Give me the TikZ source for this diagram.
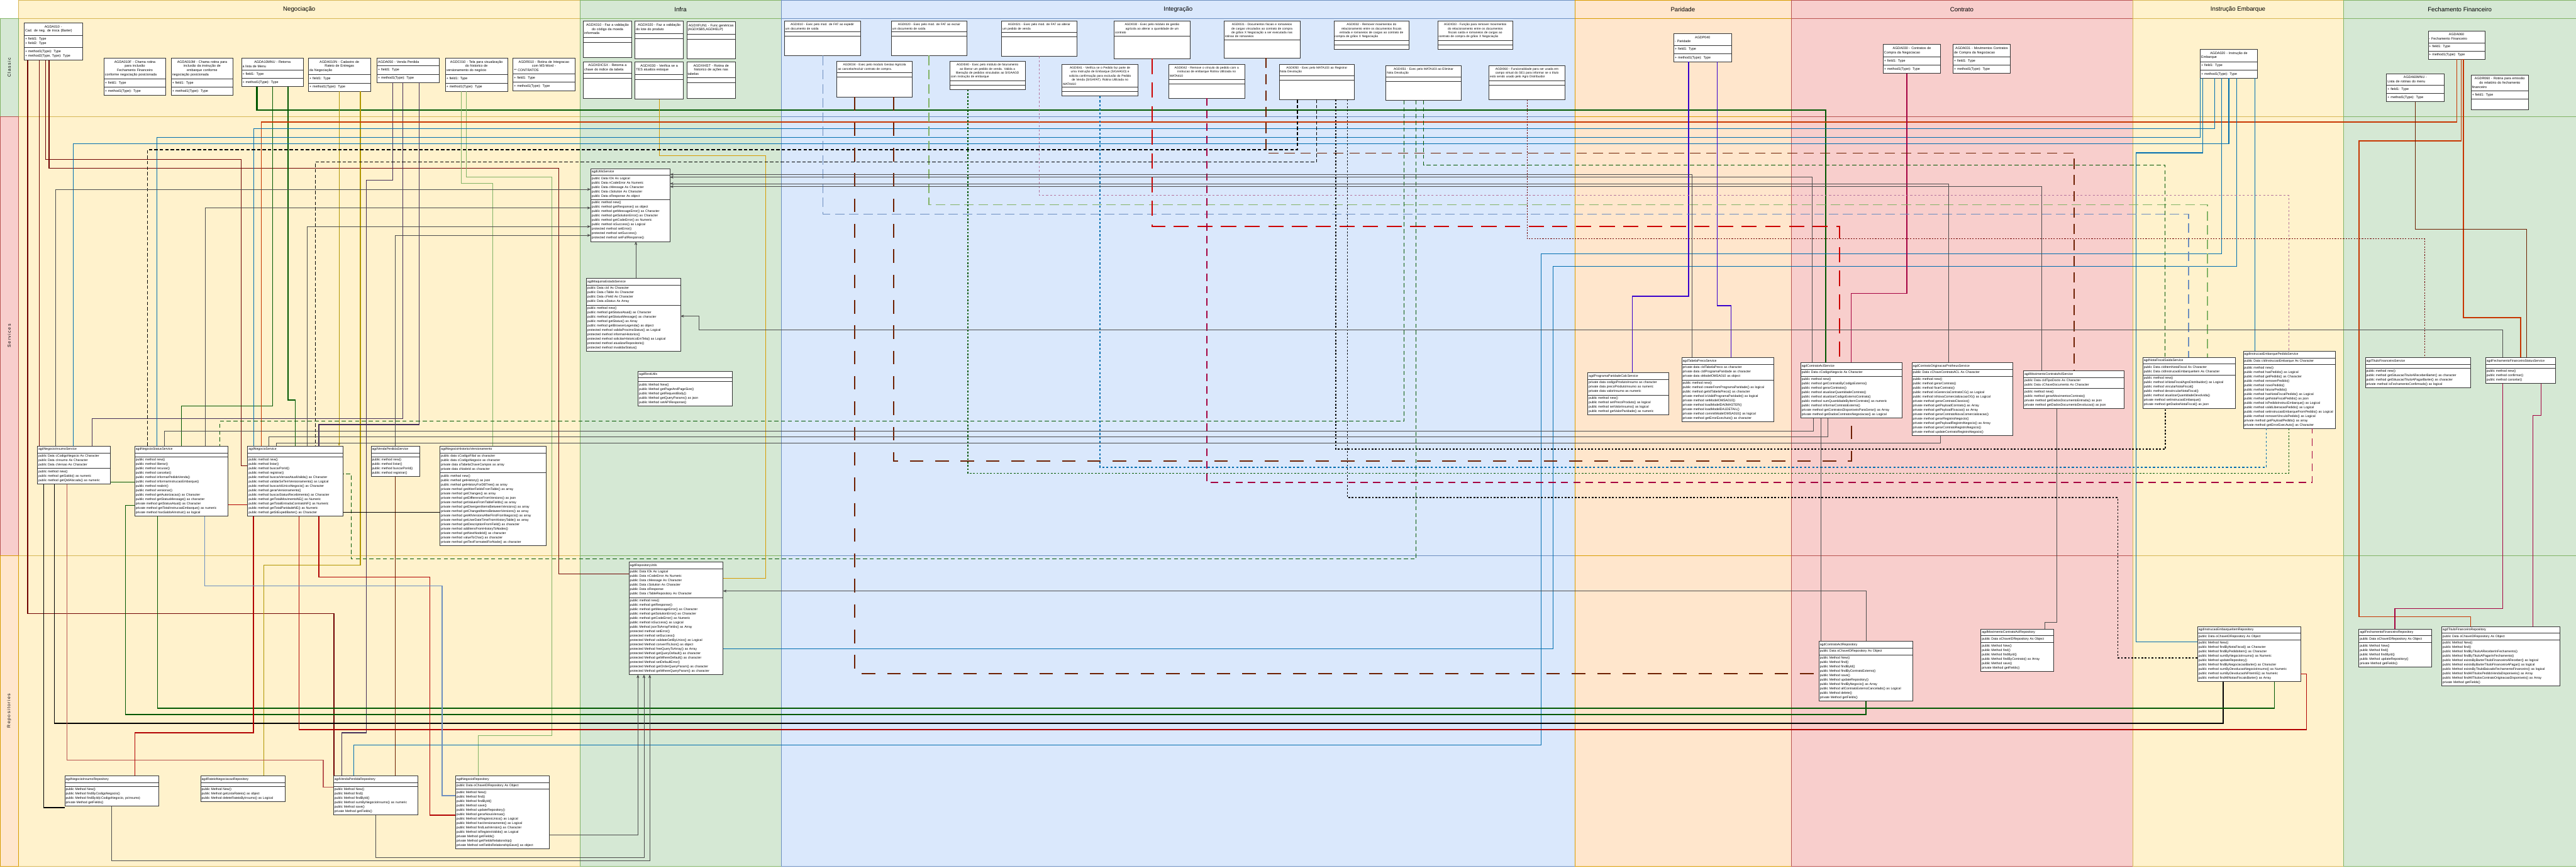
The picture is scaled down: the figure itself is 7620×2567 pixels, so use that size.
\documentclass[tikz,border=0pt]{standalone}
\usepackage{fontspec}
\setmainfont{Liberation Sans}
\usetikzlibrary{positioning,shapes.multipart,arrows.meta}
\definecolor{NegFill}{HTML}{FFF2CC}
\definecolor{NegLine}{HTML}{D6B656}
\definecolor{InfraFill}{HTML}{D5E8D4}
\definecolor{InfraLine}{HTML}{82B366}
\definecolor{IntFill}{HTML}{DAE8FC}
\definecolor{IntLine}{HTML}{6C8EBF}
\definecolor{ParFill}{HTML}{FFE6CC}
\definecolor{ParLine}{HTML}{D79B00}
\definecolor{ConFill}{HTML}{F8CECC}
\definecolor{ConLine}{HTML}{B85450}
\definecolor{BoxLine}{HTML}{333333}
\definecolor{Wine}{HTML}{6F0000}
\definecolor{Forest}{HTML}{005700}
\definecolor{Olive}{HTML}{B09500}
\definecolor{Plum}{HTML}{432D57}
\definecolor{Leaf}{HTML}{82B366}
\definecolor{Amber}{HTML}{D79B00}
\definecolor{Rust}{HTML}{C73500}
\definecolor{Ocean}{HTML}{006EAF}
\definecolor{Steel}{HTML}{6C8EBF}
\definecolor{Mauve}{HTML}{B5739D}
\definecolor{Scarlet}{HTML}{CC0000}
\definecolor{Cherry}{HTML}{B20000}
\definecolor{Crimson}{HTML}{A50040}
\definecolor{Umber}{HTML}{6D1F00}
\definecolor{Violet}{HTML}{3700CC}
\definecolor{Salmon}{HTML}{B85450}
\definecolor{Slate}{HTML}{4D4D4D}

\begin{document}
\begin{tikzpicture}[x=1pt,y=-1pt,
    lanebox/.style 2 args={fill=#1,draw=#2,line width=1pt},
    lanetitle/.style={font=\fontsize{18}{21}\selectfont},
    rowlabel/.style={rotate=90,font={\fontsize{13}{16}\selectfont\addfontfeatures{LetterSpace=20}}},
    umlclass/.style={rectangle split,rectangle split parts=3,draw=BoxLine,fill=white,line width=1pt,anchor=north west,align=left,inner xsep=3pt,inner ysep=7pt,rectangle split empty part height=12pt,font=\fontsize{10}{12.5}\selectfont},
    intclass/.style={umlclass,inner ysep=6pt,font=\fontsize{9}{12}\selectfont},
    umlsvc/.style={umlclass,inner ysep=5pt,rectangle split empty part height=14pt,font=\fontsize{9.5}{13}\selectfont},
    wineline/.style={draw=Wine,line width=2.5pt},
    forestline/.style={draw=Forest,line width=2.5pt},
    forestheavy/.style={draw=Forest,line width=4pt},
    oliveline/.style={draw=Olive,line width=2pt},
    plumline/.style={draw=Plum,line width=2.5pt},
    leafline/.style={draw=Leaf,line width=2pt},
    amberline/.style={draw=Amber,line width=2.5pt},
    rustline/.style={draw=Rust,line width=2.5pt},
    oceanline/.style={draw=Ocean,line width=2pt},
    violetline/.style={draw=Violet,line width=2.5pt},
    crimsonline/.style={draw=Crimson,line width=3pt},
    umberline/.style={draw=Umber,line width=1.5pt},
    cherryline/.style={draw=Cherry,line width=2.5pt},
    steelline/.style={draw=Steel,line width=2.5pt},
    salmonline/.style={draw=Salmon,line width=2.5pt},
    blackline/.style={draw=black,line width=3pt},
    steeldash/.style={draw=Steel,line width=2pt,dash pattern=on 28pt off 14pt},
    leafdash/.style={draw=Leaf,line width=2.5pt,dash pattern=on 28pt off 14pt},
    mauvedot/.style={draw=Mauve,line width=2pt,dash pattern=on 6pt off 6pt},
    scarletdash/.style={draw=Scarlet,line width=3.5pt,dash pattern=on 45pt off 25pt},
    umberdash/.style={draw=Umber,line width=3pt,dash pattern=on 30pt off 18pt},
    umberlongdash/.style={draw=Umber,line width=3.5pt,dash pattern=on 40pt off 35pt},
    winedot/.style={draw=Wine,line width=2pt,dash pattern=on 4pt off 4pt},
    blackdash/.style={draw=black,line width=2.5pt,dash pattern=on 10pt off 6pt},
    blackdot/.style={draw=black,line width=3pt,dash pattern=on 5pt off 5pt},
    forestdash/.style={draw=Forest,line width=2pt,dash pattern=on 12pt off 8pt},
    forestdot/.style={draw=Forest,line width=2.5pt,dash pattern=on 5pt off 5pt},
    oceandot/.style={draw=Ocean,line width=3pt,dash pattern=on 6pt off 6pt},
    crimsondash/.style={draw=Crimson,line width=2.5pt,dash pattern=on 22pt off 15pt},
    thinline/.style={draw=Slate,line width=1pt},
    inherit/.style={draw=Slate,line width=1pt,-{Stealth[length=10pt,width=8pt]}}
]
\useasboundingbox (0,0) rectangle (7620,2567);

% Swimlanes
\draw[lanebox={NegFill}{NegLine}] (55,0) rectangle (1715,2562);
\draw[NegLine,line width=2pt] (55,55) -- (1715,55);
\draw[NegLine,line width=1pt] (55,344) -- (1715,344) (55,1643) -- (1715,1643);
\node[lanetitle] (negociacao) at (885,28) {Negociação};

\draw[lanebox={InfraFill}{InfraLine}] (1715,0) rectangle (2311,2562);
\draw[InfraLine,line width=2pt] (1715,55) -- (2311,55);
\draw[InfraLine,line width=1pt] (1715,344) -- (2311,344) (1715,1643) -- (2311,1643);
\node[lanetitle] (infra) at (2013,28) {Infra};

\draw[lanebox={IntFill}{IntLine}] (2311,0) rectangle (4659,2562);
\draw[IntLine,line width=2pt] (2311,55) -- (4659,55);
\draw[IntLine,line width=1pt] (2311,344) -- (4659,344) (2311,1643) -- (4659,1643);
\node[lanetitle] (integracao) at (3485,28) {Integração};

\draw[lanebox={ParFill}{ParLine}] (4659,0) rectangle (5298,2562);
\draw[ParLine,line width=2pt] (4659,55) -- (5298,55);
\draw[ParLine,line width=1pt] (4659,344) -- (5298,344) (4659,1643) -- (5298,1643);
\node[lanetitle] (paridade) at (4978,28) {Paridade};

\draw[lanebox={ConFill}{ConLine}] (5298,0) rectangle (6309,2562);
\draw[ConLine,line width=2pt] (5298,55) -- (6309,55);
\draw[ConLine,line width=1pt] (5298,344) -- (6309,344) (5298,1643) -- (6309,1643);
\node[lanetitle] (contrato) at (5803,28) {Contrato};

\draw[lanebox={NegFill}{NegLine}] (6309,0) rectangle (6932,2562);
\draw[NegLine,line width=2pt] (6309,55) -- (6932,55);
\draw[NegLine,line width=1pt] (6309,344) -- (6932,344) (6309,1643) -- (6932,1643);
\node[lanetitle] (instrucao) at (6620,28) {Instrução Embarque};

\draw[lanebox={InfraFill}{InfraLine}] (6932,0) rectangle (7620,2562);
\draw[InfraLine,line width=2pt] (6932,55) -- (7620,55);
\draw[InfraLine,line width=1pt] (6932,344) -- (7620,344) (6932,1643) -- (7620,1643);
\node[lanetitle] (fechamento) at (7276,28) {Fechamento Financeiro};

% Row labels
\draw[lanebox={InfraFill}{InfraLine}] (0,55) rectangle (55,344);
\node[rowlabel] (classic) at (27,200) {Classic};
\draw[lanebox={ConFill}{ConLine}] (0,344) rectangle (55,1643);
\node[rowlabel] (services) at (27,993) {Services};
\draw[lanebox={ParFill}{ParLine}] (0,1643) rectangle (55,2562);
\node[rowlabel] (repositories) at (27,2102) {Repositories};

% Classes - Negociacao
\node[umlclass,text width=166pt] (agda010) at (71,67) {\centering AGDA010 -\\Cad. de neg. de troca (Barter)\nodepart{two}+ field1: Type\\+ field2: Type\nodepart{three}+ method1(Type): Type\\+ method2(Type, Type): Type\\[14pt]};
\node[umlclass,text width=177pt] (agda010f) at (307,171) {\centering AGDA010F - Chama rotina\\para inclusão\\Fechamento Financeiro\\conforme negociação posicionada\nodepart{two}+ field1: Type\nodepart{three}+ method1(Type): Type};
\node[umlclass,text width=177pt] (agda010m) at (506,171) {\centering AGDA010M - Chama rotina para\\inclusão da instrução de\\embarque conforme\\negociação posicionada\nodepart{two}+ field1: Type\nodepart{three}+ method1(Type): Type};
\node[umlclass,text width=177pt] (agda10mnu) at (714,172) {\centering AGDA10MNU - Retorna\\a lista de Menu\nodepart{two}+ field1: Type\nodepart{three}+ method1(Type): Type\\[30pt]};
\node[umlclass,text width=177pt] (agda010n) at (912,171) {\centering AGDA010N - Cadastro de\\Rateio de Entregas\\da Negociação\nodepart{two}+ field1: Type\nodepart{three}+ method1(Type): Type\\[14pt]};
\node[umlclass,text width=178pt] (agda050) at (1115,172) {\centering AGDA050 - Venda Perdida\nodepart{two}+ field1: Type\nodepart{three}+ method1(Type): Type\\[36pt]};
\node[umlclass,text width=178pt] (agdc010) at (1317,171) {\centering AGDC010 - Tela para visualização\\do historico de\\versionamento do negócio\nodepart{two}+ field1: Type\nodepart{three}+ method1(Type): Type\\[14pt]};
\node[umlclass,text width=177pt] (agdr010) at (1517,171) {\centering AGDR010 - Rotina de Integracao\\com MS-Word -\\*** CONTRATOS\nodepart{two}+ field1: Type\nodepart{three}+ method1(Type): Type\\[14pt]};

% Classes - Infra
\node[umlclass,text width=137pt] (agdx010) at (1725,62) {\centering AGDX010 - Faz a validação\\do código da moeda\\informada\nodepart{two}\nodepart{three}\rule{0pt}{30pt}};
\node[umlclass,text width=137pt] (agdx020) at (1878,62) {\centering AGDX020 - Faz a validação\\do lote do produto\nodepart{two}\nodepart{three}\rule{0pt}{44pt}};
\node[umlclass,text width=138pt] (agdxfun1) at (2031,63) {\centering AGDXFUN1 - Func genéricas\\(AGDXSB5,AGDHELP)\nodepart{two}\nodepart{three}\rule{0pt}{44pt}};
\node[umlclass,text width=137pt] (agdxdicsx) at (1725,182) {\centering AGDXDICSX - Retorna a\\chave do indice da tabela\nodepart{two}\nodepart{three}\rule{0pt}{44pt}};
\node[umlclass,text width=137pt] (agdx030) at (1878,182) {\centering AGDX030 - Verifica se a\\TES atualiza estoque\nodepart{two}\nodepart{three}\rule{0pt}{44pt}};
\node[umlclass,text width=138pt] (agdxhist) at (2031,182) {\centering AGDXHIST - Rotina de\\historico de ações nas\\tabelas\nodepart{two}\nodepart{three}\rule{0pt}{30pt}};

% Classes - Integracao
\node[intclass,text width=218pt] (agdi010) at (2320,62) {\centering AGDI010 - Exec pelo mod. de FAT ao expedir\\um documento de saída\nodepart{two}\nodepart{three}\rule{0pt}{44pt}};
\node[intclass,text width=218pt] (agdi020) at (2636,62) {\centering AGDI020 - Exec pelo mod. de FAT ao excluir\\um documento de saída\nodepart{two}\nodepart{three}\rule{0pt}{44pt}};
\node[intclass,text width=217pt] (agdi021) at (2962,62) {\centering AGDI021 - Exec pelo mod. de FAT ao alterar\\um pedido de venda\nodepart{two}\nodepart{three}\rule{0pt}{44pt}};
\node[intclass,rectangle split parts=2,text width=219pt] (agdi030) at (3295,62) {\centering AGDI030 - Exec pelo módulo de gestão\\agrícola ao alterar a quantidade de um\\contrato\nodepart{two}\rule{0pt}{54pt}};
\node[intclass,rectangle split parts=2,text width=219pt] (agdi031) at (3620,62) {\centering AGDI031 - Documentos fiscais e romaneios\\de cargas vinculados ao contrato de compra\\de grãos X Negociação a ser executada nas\\rotinas de romaneios\nodepart{two}\rule{0pt}{40pt}};
\node[intclass,text width=217pt] (agdi032) at (3945,62) {\centering AGDI032 - Remover movimentos do\\relacionamento entre os documentos fiscais\\entrada e romaneios de cargas ao contrato de\\compra de grãos X Negociação\nodepart{two}\nodepart{three}};
\node[intclass,text width=217pt] (agdi033) at (4252,62) {\centering AGDI033 - Função para remover movimentos\\do relacionamento entre os documentos\\fiscais saída e romaneios de cargas ao\\contrato de compra de grãos X Negociação\nodepart{two}\nodepart{three}};
\node[intclass,text width=217pt] (agdi034) at (2475,181) {\centering AGDI034 - Exec pelo modulo Gestao Agricola\\ao cancelar/excluir contrato de compra.\nodepart{two}\nodepart{three}\rule{0pt}{46pt}};
\node[intclass,text width=217pt] (agdi040) at (2809,181) {\centering AGDI040 - Exec pelo módulo de faturamento\\ao liberar um pedido de venda. Valida a\\liberação de pedidos vinculados ao SIGAAGD\\com instrução de embarque\nodepart{two}\nodepart{three}};
\node[intclass,text width=219pt] (agdi041) at (3141,190) {\centering AGDI041 - Verifica se o Pedido faz parte de\\uma Instrução de Embarque (SIGAAGD) e\\solicita confirmação para exclusão do Pedido\\de Venda (SIGAFAT). Rotina Utilizada no\\MATA410\nodepart{two}\nodepart{three}};
\node[intclass,text width=218pt] (agdi042) at (3457,190) {\centering AGDI042 - Remove o vínculo do pedido com a\\instrucao de embarque Rotina Utilizada no\\MATA410\nodepart{two}\nodepart{three}\rule{0pt}{30pt}};
\node[intclass,text width=217pt] (agdi050) at (3783,190) {\centering AGDI050 - Exec pelo MATA103 ao Registrar\\Nota Devolução\nodepart{two}\nodepart{three}\rule{0pt}{44pt}};
\node[intclass,text width=217pt] (agdi051) at (4099,193) {\centering AGDI051 - Exec pelo MATA103 ao Eliminar\\Nota Devolução\nodepart{two}\nodepart{three}\rule{0pt}{44pt}};
\node[intclass,text width=219pt] (agdi060) at (4404,193) {\centering AGDI060 - Funcionalidade para ser usada em\\campo virtual do SE1 para informar se o título\\está sendo usado pelo Agro Distribuidor\nodepart{two}\nodepart{three}\rule{0pt}{30pt}};

% Classes - Paridade, Contrato, Instrucao, Fechamento
\node[umlclass,text width=164pt] (agdp040) at (4951,99) {\centering AGDP040\\- Paridade\nodepart{two}+ field1: Type\nodepart{three}+ method1(Type): Type};
\node[umlclass,text width=164pt] (agda030) at (5570,131) {\centering AGDA030 - Contratos de\\Compra da Negociacao\nodepart{two}+ field1: Type\nodepart{three}+ method1(Type): Type};
\node[umlclass,text width=163pt] (agda031) at (5777,131) {\centering AGDA031 - Movimentos Contratos\\de Compra da Negociacao\nodepart{two}+ field1: Type\nodepart{three}+ method1(Type): Type};
\node[umlclass,text width=163pt] (agda020) at (6508,145) {\centering AGDA020 - Instrução de\\Embarque\nodepart{two}+ field1: Type\nodepart{three}+ method1(Type): Type};
\node[umlclass,text width=162pt] (agda060) at (7182,91) {\centering AGDA060\\- Fechamento Financeiro\nodepart{two}+ field1: Type\nodepart{three}+ method1(Type): Type};
\node[umlclass,text width=164pt] (agda60mnu) at (7059,217) {\centering AGDA60MNU -\\Lista de rotinas do menu\nodepart{two}+ field1: Type\nodepart{three}+ method1(Type): Type\\[14pt]};
\node[umlclass,text width=164pt] (agdr060) at (7309,221) {\centering AGDR060 - Rotina para emissão\\do relatório do fechamento\\financeiro\nodepart{two}+ field1: Type\nodepart{three}\rule{0pt}{16pt}};

% Services - Infra
\node[umlsvc,text width=228pt] (utils-svc) at (1747,498) {\centering agdUtilsService\nodepart{two}public Data lOk As Logical\\public Data nCodeError As Numeric\\public Data cMessage As Character\\public Data cSolution As Character\\public Data oResponse As object\nodepart{three}public method new()\\public method getResponse() as object\\public method getMessageError() as Character\\public method getSolutionError() as Character\\public method getCodeError() as Numeric\\public method isSuccess() as Logical\\protected method setError()\\protected method setSuccess()\\protected method setFullResponse()};
\node[umlsvc,text width=272pt] (maquina-svc) at (1734,823) {\centering agdMaquinaEstadoService\nodepart{two}public Data cId As Character\\public Data cTable As Character\\public Data cField As Character\\public Data aStatus As Array\nodepart{three}public method new()\\public method getStatusAtual() as Character\\public method getStatusMessage() as character\\public method getStatus() as Array\\public method getBrowserLegenda() as object\\protected method validaProximoStatus() as Logical\\protected method informarHistorico()\\protected method solicitarHistoricoEmTela() as Logical\\protected method atualizarRepositorio()\\protected method invalidarStatus()};
\node[umlsvc,text width=273pt] (rest-utils) at (1887,1097) {\centering agdRestUtils\nodepart{two}\nodepart{three}public Method New()\\public Method getPageAndPageSize()\\public Method getRequestBody()\\public Method getQueryParams() as json\\public Method setAPIResponse()};

% Services - Negociacao
\node[umlsvc,text width=210pt] (insumo-svc) at (110,1319) {agdNegocioInsumoService\nodepart{two}public Data cCodigoNegocio As Character\\public Data cInsumo As Character\\public Data cVersao As Character\nodepart{three}public method new()\\public method getSaldo() as numeric\\public method getQtdAlocada() as numeric};
\node[umlsvc,text width=270pt] (status-svc) at (398,1319) {agdNegocioStatusService\nodepart{two}\nodepart{three}public method new()\\public method liberar()\\public method recusar()\\public method cancelar()\\public method informarPedidoVenda()\\public method informarInstrucaoEmbarque()\\public method reabrir()\\public method versionar()\\public method getAutorizacao() as Character\\public method getStatusMessage() as character\\private method getStatusAtual() as Character\\private method getTotalInstrucaoEmbarque() as numeric\\private method hasSaldoAInstruir() as logical};
\node[umlsvc,text width=276pt] (negocio-svc) at (732,1319) {agdNegocioService\nodepart{two}\nodepart{three}public method new()\\public method listar()\\public method buscarPorId()\\public method registrar()\\public method buscarVersaoAtualValida() as Character\\public method validarSeTemVersionamento() as Logical\\public method buscarIdUnicoNegocio() as Character\\public method gerarVersionamento()\\public method buscarStatusRecebimento() as Character\\public method getTotalMovimentoNE() as Numeric\\public method getTotalEntradaContratoNF() as Numeric\\public method getTotalParidadeNE() as Numeric\\public method getStExpedBarter() as Character};
\node[umlsvc,text width=137pt] (venda-svc) at (1097,1319) {agdVendaPerdidaService\nodepart{two}\nodepart{three}public method new()\\public method listar()\\public method buscarPorId()\\public method registrar()};
\node[umlsvc,text width=307pt] (historico-svc) at (1301,1319) {agdNegocioHistoricoVersionamento\nodepart{two}public data cCodigoFilial as character\\public data cCodigoNegocio as character\\private data aTabelaChaveCampos as array\\private data cNodeId as character\nodepart{three}public method new()\\public method getHistory() as json\\public method getHistoryForDBTree() as array\\private method getAlterFieldsFromTable() as array\\private method getChanges() as array\\private method getDifferenceFromVersions() as json\\private method getValuesFromTableFields() as array\\private method getDivergentItemsBetweenVersions() as array\\private method getChangedItemsBetweenVersions() as array\\private~method~getAllVersionsAfterFirstFromNegocio()~as~array\\private method getUserDateTimeFromHistoryTable() as array\\private method getDescriptionFromField() as character\\private method addItensFromHistoryToNodes()\\private method getNextNodeId() as character\\private method valueToChar() as character\\private method getTextFormatedForNode() as character};

% Services - Paridade, Contrato
\node[umlsvc,text width=234pt] (paridade-svc) at (4696,1102) {agdProgramaParidadeCalcService\nodepart{two}private data codigoProdutoInsumo as character\\private data precoProdutoInsumo as numeric\\private data valorInsumo as numeric\nodepart{three}public method new()\\public method setPrecoProduto() as logical\\public method setValorInsumo() as logical\\public method getValorParidade() as numeric};
\node[umlsvc,text width=267pt] (tabela-svc) at (4974,1057) {agdTabelaPrecoService\nodepart{two}private data cIdTabelaPreco as character\\private data cIdProgramaParidade as character\\private data oModelOMSA010 as object\nodepart{three}public method new()\\public~method~createFromProgramaParidade()~as~logical\\public method getIdTabelaPreco() as character\\private method isValidProgramaParidade() as logical\\private method setModelOMSA010()\\private method loadModelDA0MASTER()\\private method loadModelDA1DETAIL()\\private method commitModelOMSA010() as logical\\private method getErrorExecAuto() as character};
\node[umlsvc,text width=293pt] (contrato-svc) at (5326,1072) {agdContratoAclService\nodepart{two}public Data cCodigoNegocio As Character\nodepart{three}public method new()\\public method getContratoByCodigoExterno()\\public method gerarContratos()\\public method atualizarQuantidadeContrato()\\public method atualizarCodigoExternoContrato()\\public method sumQuantidadeByItemContrato() as numeric\\public method informarContratoExterno()\\private~method~getContratosDisponiveisParaGerar()~as~Array\\private method getDadosContratosNegociacao() as Logical};
\node[umlsvc,text width=292pt] (originacao-svc) at (5655,1072) {agdContratoOriginacaoProtheusService\nodepart{two}public Data cChaveContratoACL As Character\nodepart{three}public method new()\\public method gerarContrato()\\public method fixarContrato()\\public method isGerenciaContratoCG() as Logical\\public method isNovaComercializacaoOG() as Logical\\private method gerarContratoClassico()\\private method getPayloadContrato() as Array\\private method getPayloadFixacao() as Array\\private method gerarContratoNovaComercializacao()\\private method gerarRegistroNegocio()\\private method getPayloadRegistroNegocio() as Array\\private method gerarContratoRegistroNegocio()\\private method updateContratoRegistroNegocio()};
\node[umlsvc,text width=292pt] (movcontrato-svc) at (5985,1096) {agdMovimentoContratoAclService\nodepart{two}public Data cIdTipoDocto As Character\\public Data cChaveDocumento As Character\nodepart{three}public method new()\\public method gerarMovimentosContrato()\\private method getDadosDocumentoEntrada() as json\\private method getDadosDocumentoDevolucao() as json};

% Services - Instrucao, Fechamento
\node[umlsvc,text width=267pt] (nfsaida-svc) at (6338,1056) {agdNotaFiscalSaidaService\nodepart{two}public Data cIdItemNotaFiscal As Character\\public Data cIdInstrucaoEmbarqueItem As Character\nodepart{three}public method new()\\public~method~isNotaFiscalAgroDistribuidor()~as~Logical\\public method vincularNotaFiscal()\\public method desvincularNotaFiscal()\\public method atualizarQuantidadeDevolvida()\\private method setInstrucaoEmbarque()\\private method getDadosNotaFiscal() as json};
\node[umlsvc,text width=267pt] (iepedido-svc) at (6635,1038) {agdInstrucaoEmbarquePedidoService\nodepart{two}public Data cIdInstrucaoEmbarque As Character\nodepart{three}public method new()\\public method hasPedido() as Logical\\public method getPedido() as Character\\public method removerPedido()\\public method novoPedido()\\public method faturarPedido()\\public method hasNotaFiscalPedido() as Logical\\public method getNotaFiscalPedido() as json\\public method isPedidoInstrucEmbarque() as Logical\\public method validLiberacaoPedido() as Logical\\public~method~setInstrucaoEmbarqueFromPedido()~as~Logical\\public method removerVinculoPedido() as Logical\\private method getPayloadPedido() as array\\private method getErrorExecAuto() as Character};
\node[umlsvc,text width=306pt] (titulo-svc) at (6996,1057) {agdTituloFinanceiroService\nodepart{two}\nodepart{three}public method new()\\public~method~getSituacaoTituloAReceberBarter()~as~character\\public method getSituacaoTituloAPagarBarter() as character\\private method isFechamentoConfirmado() as logical};
\node[umlsvc,text width=201pt] (fechstatus-svc) at (7352,1057) {agdFechamentoFinanceiroStatusService\nodepart{two}\nodepart{three}public method new()\\public method confirmar()\\public method cancelar()\\[14pt]};

% Repositories
\node[umlsvc,text width=272pt] (repo-utils) at (1860,1662) {agdRepositoryUtils\nodepart{two}public Data lOk As Logical\\public Data nCodeError As Numeric\\public Data cMessage As Character\\public Data cSolution As Character\\public Data oResponse\\public Data cTableRepository As Character\nodepart{three}public method new()\\public method getResponse()\\public method getMessageError() as Character\\public method getSolutionError() as Character\\public method getCodeError() as Numeric\\public method isSuccess() as Logical\\public Method jsonToArrayFields() as Array\\protected method setError()\\protected method setSuccess()\\protected Method validateGetByUnico() as Logical\\protected Method convertToJson() as object\\protected Method freeQueryToArray() as Array\\protected Method getQueryDefault() as character\\protected Method getWhereDefault() as character\\protected Method setDefaultError()\\protected Method getOrderQueryParam() as character\\protected Method getWhereQueryParam() as character};
\node[umlsvc,text width=271pt] (insumo-repo) at (191,2294) {agdNegocioInsumoRepository\nodepart{two}\nodepart{three}public Method New()\\public Method findByCodigoNegocio()\\public Method findById(cCodigoNegocio, pcInsumo)\\private Method getFields()\\[80pt]};
\node[umlsvc,text width=243pt] (rateio-repo) at (593,2294) {agdRateioNegociacaoRepository\nodepart{two}\nodepart{three}public Method New()\\public Method getListaRateio() as object\\public Method deleteRateioByInsumo() as Logical};
\node[umlsvc,text width=244pt] (venda-repo) at (986,2294) {agdVendaPerdidaRepository\nodepart{two}\nodepart{three}public Method New()\\public Method find()\\public Method findById()\\public Method sumByNegocioInsumo() as numeric\\public Method save()\\private Method getFields()};
\node[umlsvc,text width=271pt] (negocio-repo) at (1347,2294) {agdNegocioRepository\nodepart{two}public Data oChaveIDRepository As Object\nodepart{three}public Method New()\\public Method find()\\public Method findById()\\public Method save()\\public Method updateRepository()\\public Method gerarNovaVersao()\\public Method isRegistroUnico() as Logical\\public Method hasVersionamento() as Logical\\public Method findLastVersion() as Character\\public Method isRegistroValido() as Logical\\private Method getFields()\\private Method getFieldsRelationship()\\private Method setFieldsRelationshipSave() as object};
\node[umlsvc,text width=272pt] (contrato-repo) at (5380,1896) {agdContratoAclRepository\nodepart{two}public Data oChaveIDRepository As Object\nodepart{three}public Method New()\\public Method find()\\public Method findById()\\public Method findByContratoExterno()\\public Method save()\\public Method updateRepository()\\public Method findByNegocio() as Array\\public~Method~allContratoExternoCancelado()~as~Logical\\public Method delete()\\private Method getFields()};
\node[umlsvc,text width=209pt] (movcontrato-repo) at (5859,1860) {agdMovimentoContratoAclRepository\nodepart{two}public Data oChaveIDRepository As Object\nodepart{three}public Method New()\\public Method find()\\public Method findById()\\public Method findByContrato() as Array\\public Method save()\\private Method getFields()};
\node[umlsvc,text width=299pt] (ieitem-repo) at (6500,1852) {agdInstrucaoEmbarqueItemRepository\nodepart{two}public Data oChaveIDRepository As Object\nodepart{three}public Method New()\\public Method findByNotaFiscal() as Character\\public Method findByPedidoItem() as Character\\public Method sumByNegocioInsumo() as Numeric\\public Method updateRepository()\\public Method findByNegociacaoBarter() as Character\\public method sumByDevolucaoNegocioInsumo() as Numeric\\public method sumByDevolucaoNFItemIE() as Numeric\\public method findAllNotasFiscaisBarter() as Array\\[10pt]};
\node[umlsvc,text width=209pt] (fech-repo) at (6977,1860) {agdFechamentoFinanceiroRepository\nodepart{two}public Data oChaveIDRepository As Object\nodepart{three}public Method New()\\public Method find()\\public Method findById()\\public Method updateRepository()\\private Method getFields()};
\node[umlsvc,text width=344pt] (titulo-repo) at (7222,1852) {agdTituloFinanceiroRepository\nodepart{two}public Data oChaveIDRepository As Object\nodepart{three}public Method New()\\public Method find()\\public Method findByTituloAReceberInFechamento()\\public Method findByTituloAPagarInFechamento()\\public Method existsByBarterTituloFinanceiroAReceber() as logical\\public Method existsByBarterTituloFinanceiroAPagar() as logical\\public Method existsByTituloBaixadoFechamentoFinanceiro() as logical\\public Method findAllTitulosPedidoVendaDisponiveis() as Array\\public~Method~findAllTitulosContratoOriginacaoDisponiveis()~as~Array\\private Method getFields()};

% Classes -> services / repositories
\draw[wineline] ([xshift=11pt]agda010.south west) |- (988,1815) -| ([xshift=2pt]venda-repo.north west);
\draw[wineline] ([xshift=45pt]agda010.south west) -- ([xshift=6pt]insumo-svc.north west);
\draw[wineline] ([xshift=64pt]agda010.south west) |- (713,471) |- ([yshift=-58pt]negocio-svc.north west);
\draw[wineline] ([xshift=74pt]agda010.south west) |- (1653,498) |- ([yshift=-35pt]repo-utils.north west);
\draw[forestheavy] ([xshift=46pt]agda10mnu.south west) |- (5401,326) -| ([xshift=75pt]contrato-svc.north west);
\draw[forestline] ([xshift=92pt]agda10mnu.south west) |- (537,1201) -| ([xshift=139pt]status-svc.north west);
\draw[forestline] ([xshift=138pt]agda10mnu.south west) |- (873,1183) -| ([xshift=141pt]negocio-svc.north west);
\draw[oliveline,-{Stealth[length=8pt]}] ([xshift=91pt]agda010n.south west) -- ([xshift=271pt]negocio-svc.north west);
\draw[oliveline] ([xshift=154pt]agda010n.south west) |- (780,1671) -| ([xshift=187pt]rateio-repo.north west);
\draw[plumline] ([xshift=47pt]agda050.south west) |- (1084,533) |- (1011,2167) -| ([xshift=25pt]venda-repo.north west);
\draw[plumline] ([xshift=76pt]agda050.south west) |- (273,1238) -| ([xshift=163pt]insumo-svc.north west);
\draw[plumline] ([xshift=125pt]agda050.south west) |- (943,1256) -| ([xshift=211pt]negocio-svc.north west);
\draw[leafline] ([xshift=47pt]agdc010.south west) |- (1457,542) -| ([xshift=156pt]historico-svc.north west);
\draw[leafline] ([xshift=62pt]agdc010.south west) |- (1633,524) |- (1415,2176) -| ([xshift=68pt]negocio-repo.north west);
\draw[amberline] ([xshift=72pt]agdx030.south west) |- (2265,461) |- ([yshift=-49pt]repo-utils.north east);
\draw[rustline] ([xshift=85pt]agda060.south west) |- (773,361) -| ([xshift=41pt]negocio-svc.north west);
\draw[rustline] ([xshift=99pt]agda060.south west) |- (6978,417) |- (7308,1824) -| ([xshift=86pt]titulo-repo.north west);
\draw[rustline,line width=4pt] ([xshift=105pt]agda060.south west) |- (7456,940) -| ([xshift=104pt]fechstatus-svc.north west);
\draw[oceanline] ([xshift=43pt]agda020.south west) |- (751,380) -| ([xshift=19pt]negocio-svc.north west);
\draw[oceanline] ([xshift=1pt]agda020.south west) |- (465,407) -| ([xshift=67pt]status-svc.north west);
\draw[oceanline] ([xshift=85pt]agda020.south west) |- (217,425) -| ([xshift=107pt]insumo-svc.north west);
\draw[oceanline] ([xshift=7pt]agda020.south west) |- (6318,452) |- ([yshift=-47pt]ieitem-repo.north west);
\draw[oceanline] ([xshift=64pt]agda020.south west) |- (4559,750) |- (1047,2204) -| ([xshift=61pt]venda-repo.north west);
\draw[oceanline] ([xshift=109pt]agda020.south west) |- (4594,787) |- ([yshift=-257pt]repo-utils.north east);
\draw[oceanline] ([xshift=162pt]agda020.south west) -- ([xshift=35pt]iepedido-svc.north west);
\draw[violetline] ([xshift=44pt]agdp040.south west) |- (4829,876) -| ([xshift=133pt]paridade-svc.north west);
\draw[violetline] ([xshift=129pt]agdp040.south west) |- (5120,904) -| ([xshift=146pt]tabela-svc.north west);
\draw[crimsonline] ([xshift=70pt]agda030.south west) |- (5476,868) -| ([xshift=150pt]contrato-svc.north west);
\draw[umberline,line width=2.5pt] ([xshift=85pt]agda60mnu.south west) |- (7474,678) -| ([xshift=122pt]fechstatus-svc.north west);

% Integracao entry points
\draw[steeldash] ([xshift=114pt]agdi010.south west) |- (6474,633) -| ([xshift=136pt]nfsaida-svc.north west);
\draw[leafdash] ([xshift=112pt]agdi020.south west) |- (6530,606) -| ([xshift=192pt]nfsaida-svc.north west);
\draw[mauvedot] ([xshift=112pt]agdi021.south west) |- (6771,578) -| ([xshift=136pt]iepedido-svc.north west);
\draw[scarletdash] ([xshift=113pt]agdi030.south west) |- (5441,670) -| ([xshift=115pt]contrato-svc.north west);
\draw[umberdash] ([xshift=125pt]agdi031.south west) |- (6135,453) -| ([xshift=150pt]movcontrato-svc.north west);
\draw[winedot] ([xshift=113pt]agdi060.south west) |- (7172,706) -| ([xshift=176pt]titulo-svc.north west);
\draw[blackdash] ([xshift=55pt]agdi050.south west) |- (436,443) -| ([xshift=38pt]status-svc.north west);
\draw[blackdash] ([xshift=112pt]agdi050.south west) |- (933,479) -| ([xshift=201pt]negocio-svc.north west);
\draw[blackdot] ([xshift=168pt]agdi050.south west) |- (6405,1328) -| ([xshift=67pt]nfsaida-svc.south west);
\draw[blackdot] ([xshift=203pt]agdi050.south west) |- (6265,1472) |- ([yshift=-94pt]ieitem-repo.north west);
\draw[forestdash] ([xshift=55pt]agdi051.south west) |- (650,1246) -| ([xshift=252pt]status-svc.north west);
\draw[forestdash] ([xshift=90pt]agdi051.south west) |- (1039,1653) |- ([yshift=-83pt]negocio-svc.north east);
\draw[forestdash] ([xshift=112pt]agdi051.south west) |- (6405,489) -| ([xshift=67pt]nfsaida-svc.north west);
\draw[forestdot] ([xshift=54pt]agdi040.south west) |- (6771,1400) -| ([xshift=136pt]iepedido-svc.south west);
\draw[oceandot] ([xshift=113pt]agdi041.south west) |- (6704,1382) -| ([xshift=69pt]iepedido-svc.south west);
\draw[crimsondash] ([xshift=113pt]agdi042.south west) |- (6840,1427) -| ([xshift=205pt]iepedido-svc.south west);
\draw[umberlongdash] ([xshift=168pt]agdi034.south west) |- (5476,1364) -| ([xshift=150pt]contrato-svc.south west);
\draw[umberlongdash] ([xshift=54pt]agdi034.south west) |- ([yshift=-96pt]contrato-repo.north west);

% Services inheritance
\draw[inherit] ([xshift=54pt]insumo-svc.north west) |- ([yshift=-62pt]utils-svc.north west);
\draw[inherit] ([xshift=209pt]status-svc.north west) |- ([yshift=-117pt]utils-svc.north west);
\draw[inherit] ([xshift=176pt]negocio-svc.north west) |- ([yshift=-172pt]utils-svc.north west);
\draw[inherit] ([xshift=72pt]venda-svc.north west) |- ([yshift=-198pt]utils-svc.north west);
\draw[inherit] ([xshift=147pt]maquina-svc.north west) -- ([xshift=134pt]utils-svc.south west);
\draw[inherit] ([xshift=31pt]tabela-svc.north west) |- ([yshift=-18pt]utils-svc.north east);
\draw[inherit] ([xshift=34pt]contrato-svc.north west) |- ([yshift=-26pt]utils-svc.north east);
\draw[inherit] ([xshift=108pt]originacao-svc.north west) |- ([yshift=-45pt]utils-svc.north east);
\draw[inherit] ([xshift=55pt]movcontrato-svc.north west) |- ([yshift=-54pt]utils-svc.north east);
\draw[inherit] ([xshift=50pt]fechstatus-svc.north west) |- (2067,976) |- ([yshift=-112pt]maquina-svc.north east);
\draw[thinline] ([xshift=37pt]contrato-svc.south west) |- (486,1274) -| ([xshift=88pt]status-svc.north west);
\draw[thinline] ([xshift=81pt]contrato-svc.south west) |- (794,1292) -| ([xshift=62pt]negocio-svc.north west);
\draw[thinline] ([xshift=85pt]originacao-svc.south west) |- (817,1310) -| ([xshift=85pt]negocio-svc.north west);
\draw[thinline] ([xshift=61pt]contrato-svc.south west) -- ([xshift=7pt]contrato-repo.north west);
\draw[thinline] ([xshift=99pt]movcontrato-svc.south west) |- (6048,1840) -| ([xshift=189pt]movcontrato-repo.north west);

% Services -> repositories
\draw[blackline] ([xshift=19pt]insumo-svc.south west) |- ([yshift=-95pt]insumo-repo.north west);
\draw[blackline,line width=3.5pt] ([xshift=51pt]insumo-svc.south west) |- (6577,2140) -| ([xshift=77pt]ieitem-repo.south west);
\draw[salmonline] ([xshift=88pt]insumo-svc.south west) |- (956,2248) |- ([yshift=-34pt]venda-repo.north west);
\draw[forestline] ([yshift=-107pt]insumo-svc.north east) -- ([yshift=-107pt]status-svc.north west);
\draw[forestline,line width=3pt] ([yshift=-176pt]status-svc.north west) -| (371,2113) -| ([xshift=140pt]contrato-repo.south west);
\draw[forestline,line width=3pt] ([xshift=68pt]status-svc.south west) |- (6728,2095) -| ([xshift=228pt]ieitem-repo.south west);
\draw[cherryline] ([yshift=-174pt]status-svc.north east) -- ([yshift=-174pt]negocio-svc.north west);
\draw[cherryline] ([xshift=18pt]negocio-svc.south west) |- (399,2167) -| ([xshift=208pt]insumo-repo.north west);
\draw[cherryline] ([xshift=153pt]negocio-svc.south west) |- (6823,2158) |- ([yshift=-141pt]ieitem-repo.north east);
\draw[cherryline] ([xshift=211pt]negocio-svc.south west) |- (1271,1707) |- ([yshift=-117pt]negocio-repo.north west);
\draw[steelline] ([xshift=208pt]status-svc.south west) |- (1308,1733) |- ([yshift=-59pt]negocio-repo.north west);
\draw[umberline] ([xshift=72pt]venda-svc.south west) -- ([xshift=183pt]venda-repo.north west);
\draw[blackline] ([yshift=-196pt]negocio-svc.north east) -- ([yshift=-196pt]historico-svc.north west);
\draw[crimsonline,line width=2.5pt] ([xshift=165pt]fechstatus-svc.south west) |- (7492,1229) -| ([xshift=270pt]titulo-repo.north west);
\draw[crimsonline,line width=2.5pt] ([xshift=51pt]fechstatus-svc.south west) |- (7084,1800) -| ([xshift=107pt]fech-repo.north west);

% Repositories inheritance
\draw[inherit] ([yshift=-176pt]negocio-repo.north east) -| ([xshift=27pt]repo-utils.south west);
\draw[inherit] ([xshift=126pt]venda-repo.south west) |- (1905,2537) -| ([xshift=45pt]repo-utils.south west);
\draw[inherit] ([xshift=139pt]insumo-repo.south west) |- (1922,2545) -| ([xshift=62pt]repo-utils.south west);
\draw[inherit] ([xshift=140pt]contrato-repo.north west) |- ([yshift=-86pt]repo-utils.north east);

\end{tikzpicture}
\end{document}
